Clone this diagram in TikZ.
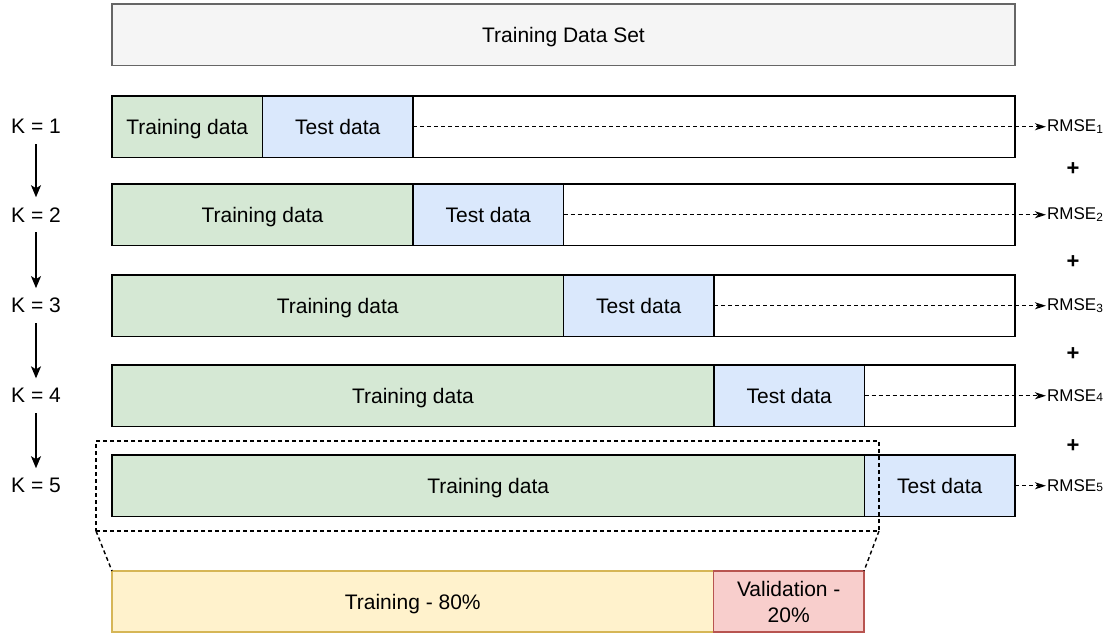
\documentclass[tikz,border=0pt]{standalone}
\usepackage{fontspec}
\setmainfont{Liberation Sans}
\usetikzlibrary{arrows.meta}
\definecolor{trainfill}{HTML}{D5E8D4}
\definecolor{testfill}{HTML}{DAE8FC}
\definecolor{setfill}{HTML}{F5F5F5}
\definecolor{setdraw}{HTML}{666666}
\definecolor{yelfill}{HTML}{FFF2CC}
\definecolor{yeldraw}{HTML}{D6B656}
\definecolor{redfill}{HTML}{F8CECC}
\definecolor{reddraw}{HTML}{B85450}
\tikzset{
  box/.style={draw, line width=1.5pt, inner sep=0pt, outer sep=0pt, anchor=north west,
    minimum height=61.5pt, font=\fontsize{21}{26}\selectfont, align=center},
  onetext/.style={text height=15.5pt, text depth=0pt},
  klabel/.style={inner xsep=2pt, inner ysep=10pt, font=\fontsize{21}{26}\selectfont},
  karrow/.style={line width=1.4pt, -{Stealth[length=12pt,width=10pt,inset=3pt]}},
  rmse/.style={anchor=west, inner xsep=1pt, inner ysep=2pt, font=\fontsize{17}{20}\selectfont},
  dasharrow/.style={line width=1.4pt, dash pattern=on 4pt off 3pt, -{Stealth[length=11pt,width=7pt,inset=3pt]}},
  plussign/.style={inner sep=0pt, font=\fontsize{22}{22}\selectfont\bfseries},
  zoomline/.style={line width=1.4pt, dash pattern=on 4pt off 3pt}
}
\begin{document}
\begin{tikzpicture}[x=1pt,y=-1pt]
\useasboundingbox (0,0) rectangle (1112,634);
% top box
\node[box, onetext, fill=setfill, draw=setdraw, minimum width=903pt] (set) at (112,4) {Training Data Set};
% rows
\foreach \i/\y/\lab in {1/96/{RMSE\textsubscript{1}},2/184/{RMSE\textsubscript{2}},3/275/{RMSE\textsubscript{3}},4/365/{RMSE{\fontsize{12}{12}\selectfont 4}},5/455/{RMSE{\fontsize{12}{12}\selectfont 5}}} {
  \pgfmathsetmacro{\wt}{150.5*\i}
  \pgfmathsetmacro{\xt}{112+150.5*\i}
  \pgfmathsetmacro{\yc}{\y+30.75}
  \node[box, fill=white, minimum width=903pt] (row\i) at (112,\y) {};
  \node[box, onetext, fill=trainfill, minimum width=\wt pt] (tr\i) at (112,\y) {Training data};
  \node[box, onetext, fill=testfill, minimum width=150.5pt] (te\i) at (\xt,\y) {Test data};
  \node[rmse] (rm\i) at (1046,\yc) {\lab};
  \draw[dasharrow] (te\i.east) -- (rm\i.west);
  \node[klabel] (k\i) at (36,\yc) {K = \i};
}
\foreach \a/\b in {1/2,2/3,3/4,4/5} {
  \draw[karrow] (k\a.south) -- (k\b.north);
}
% plus signs
\node[plussign] (p1) at (1073,169) {+};
\node[plussign] (p2) at (1073,262) {+};
\node[plussign] (p3) at (1073,354) {+};
\node[plussign] (p4) at (1073,446) {+};
% zoom frame
\node[draw, zoomline, inner sep=0pt, outer sep=0pt, anchor=north west, minimum width=783pt, minimum height=90pt] (zoom) at (96,441) {};
% bottom boxes
\node[box, onetext, fill=yelfill, draw=yeldraw, minimum width=601.5pt, minimum height=61pt] (b1) at (112,571) {Training - 80\%};
\node[box, fill=redfill, draw=reddraw, minimum width=150.5pt, minimum height=61pt] (b2) at (713.5,571) {Validation -\\20\%};
\draw[zoomline] (zoom.south west) -- (b1.north west);
\draw[zoomline] (zoom.south east) -- (b2.north east);
\end{tikzpicture}
\end{document}
